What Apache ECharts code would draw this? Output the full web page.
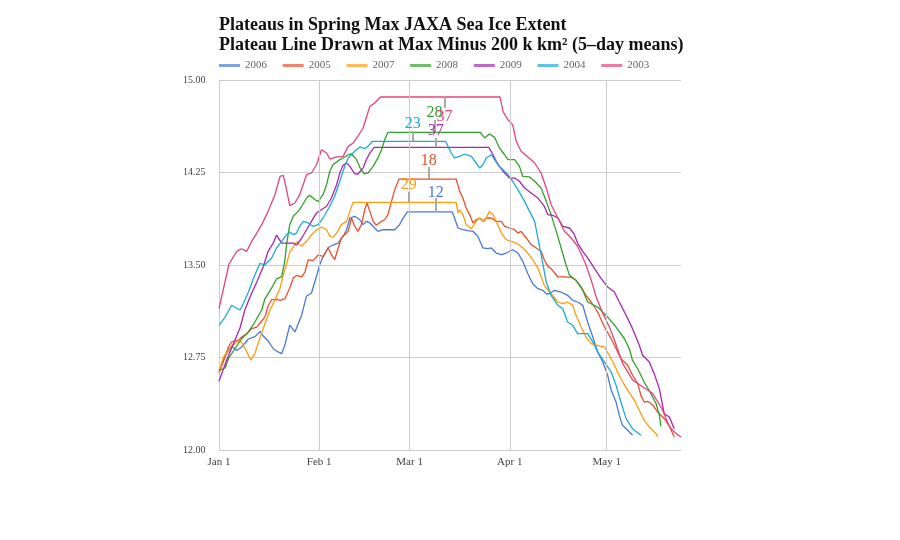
<!DOCTYPE html>
<html><head><meta charset="utf-8">
<script src="https://cdn.jsdelivr.net/npm/echarts@6/dist/echarts.min.js"></script>
<style>html,body{margin:0;padding:0;background:#fff}#c{width:900px;height:540px}</style>
</head><body><div id="c"></div>
<script>
const years = ['2006','2005','2007','2008','2009','2004','2003'];
const colors = ['#4a78d8','#e8502c','#ff9b0e','#33a02c','#a626b0','#1ea9d9','#e2457a'];

const y2006 = [[0,12.641],[1.9,12.762],[3.9,12.843],[5.5,12.807],[7.0,12.835],[9.1,12.900],[11.1,12.919],[12.7,12.961],[13.7,12.924],[15.2,12.884],[16.8,12.821],[18.3,12.795],[19.4,12.782],[20.4,12.851],[21.9,13.012],[23.5,12.957],[24.0,12.957],[25.6,13.095],[27.1,13.249],[28.6,13.271],[30.2,13.411],[31.2,13.504],[32.2,13.565],[33.8,13.642],[35.3,13.662],[36.9,13.678],[38.4,13.733],[39.5,13.786],[40.5,13.881],[42.0,13.895],[43.6,13.867],[44.6,13.827],[45.6,13.854],[46.7,13.841],[48.2,13.800],[49.2,13.773],[50.8,13.786],[52.3,13.786],[54.4,13.786],[55.9,13.827],[57.0,13.881],[58.3,13.930],[72.2,13.930],[72.9,13.881],[74.0,13.800],[75.5,13.786],[77.0,13.778],[78.6,13.773],[80.1,13.733],[81.7,13.638],[83.2,13.632],[84.3,13.638],[85.8,13.597],[87.4,13.584],[88.9,13.597],[90.9,13.624],[92.5,13.597],[94.0,13.532],[95.6,13.429],[97.1,13.348],[98.7,13.308],[100.2,13.295],[101.3,13.267],[102.3,13.267],[103.8,13.295],[105.9,13.281],[107.9,13.254],[109.5,13.214],[111.0,13.200],[112.6,13.173],[114.1,13.038],[115.7,12.916],[117.2,12.795],[118.8,12.714],[120.3,12.606],[121.4,12.484],[122.9,12.389],[123.9,12.281],[124.9,12.200],[126.5,12.160],[128.0,12.119]];

const y2005 = [[0,12.624],[1.3,12.714],[2.9,12.835],[3.9,12.876],[6.0,12.889],[7.0,12.916],[8.6,12.943],[10.1,12.984],[11.7,12.997],[13.2,13.046],[14.2,13.078],[15.2,13.168],[16.3,13.220],[17.8,13.222],[18.9,13.214],[20.4,13.227],[20.9,13.214],[21.9,13.314],[23.0,13.395],[24.0,13.415],[25.6,13.403],[26.6,13.443],[27.6,13.541],[29.1,13.535],[30.7,13.581],[32.2,13.570],[33.8,13.638],[34.8,13.584],[35.8,13.543],[36.9,13.638],[37.9,13.719],[38.9,13.746],[40.0,13.773],[41.0,13.881],[42.0,13.814],[43.0,13.773],[44.1,13.827],[45.1,13.948],[45.8,14.003],[46.7,13.935],[47.7,13.854],[48.7,13.822],[50.3,13.854],[51.3,13.867],[52.3,13.908],[53.4,14.016],[54.4,14.111],[55.7,14.197],[73.4,14.197],[74.5,14.097],[75.5,14.043],[76.5,13.962],[77.6,13.908],[78.6,13.841],[79.6,13.867],[80.7,13.881],[81.7,13.854],[82.7,13.881],[84.3,13.881],[85.8,13.854],[87.4,13.854],[88.4,13.814],[89.9,13.800],[91.5,13.786],[92.5,13.759],[93.5,13.773],[95.1,13.719],[96.6,13.665],[98.2,13.638],[99.7,13.611],[100.7,13.543],[101.8,13.489],[102.8,13.470],[104.9,13.403],[106.9,13.403],[109.0,13.399],[110.5,13.376],[112.1,13.322],[113.6,13.254],[115.2,13.200],[117.2,13.119],[119.3,12.997],[120.8,12.930],[122.4,12.849],[124.4,12.740],[126.5,12.687],[128.0,12.606],[129.6,12.538],[130.6,12.443],[131.6,12.389],[132.7,12.395],[134.2,12.365],[135.8,12.308],[137.8,12.254],[139.4,12.195],[140.9,12.105]];

const y2007 = [[0,12.628],[1.3,12.749],[3.4,12.831],[5.5,12.876],[7.0,12.876],[8.6,12.797],[9.8,12.730],[11.1,12.782],[12.7,12.911],[14.2,13.022],[15.8,13.135],[17.3,13.216],[18.9,13.314],[19.9,13.419],[20.9,13.508],[21.9,13.605],[24.0,13.687],[25.6,13.652],[27.1,13.692],[28.6,13.746],[30.2,13.786],[31.7,13.808],[33.3,13.786],[34.3,13.733],[35.3,13.725],[36.4,13.759],[37.9,13.827],[39.5,13.854],[40.5,13.935],[41.5,14.008],[73.4,14.008],[74.0,13.922],[74.5,13.948],[75.5,13.908],[76.5,13.827],[78.1,13.794],[79.6,13.854],[80.7,13.881],[82.2,13.854],[83.7,13.935],[84.8,13.908],[85.8,13.854],[87.4,13.759],[88.9,13.705],[90.4,13.692],[92.0,13.678],[93.5,13.652],[95.1,13.611],[97.1,13.543],[98.7,13.476],[100.7,13.335],[102.8,13.267],[104.9,13.200],[106.4,13.186],[107.9,13.200],[109.5,13.173],[110.5,13.092],[112.1,12.997],[113.6,12.916],[115.2,12.862],[117.2,12.849],[119.3,12.835],[120.8,12.768],[122.4,12.687],[124.4,12.578],[126.5,12.484],[128.6,12.403],[130.1,12.322],[131.6,12.241],[133.2,12.187],[135.3,12.132],[135.8,12.105]];

const y2008 = [[0,12.646],[1.9,12.665],[2.9,12.740],[4.9,12.821],[7.0,12.902],[9.1,12.957],[11.1,13.038],[13.2,13.135],[14.2,13.224],[16.3,13.314],[17.8,13.387],[19.4,13.405],[20.4,13.541],[20.9,13.665],[21.9,13.827],[23.0,13.895],[24.5,13.935],[25.6,13.976],[27.1,14.043],[28.1,14.065],[29.7,14.029],[30.7,14.016],[32.2,14.070],[33.3,14.151],[34.3,14.260],[35.3,14.313],[36.9,14.346],[38.4,14.368],[40.0,14.394],[41.0,14.400],[42.6,14.354],[43.6,14.292],[44.9,14.238],[46.1,14.246],[47.7,14.300],[49.2,14.368],[50.3,14.435],[51.3,14.516],[52.3,14.576],[80.9,14.576],[82.2,14.530],[83.7,14.562],[85.3,14.535],[86.8,14.449],[88.4,14.394],[89.4,14.354],[91.5,14.354],[93.0,14.300],[94.0,14.219],[96.1,14.214],[97.7,14.179],[99.7,14.124],[101.3,14.016],[102.8,13.908],[104.4,13.773],[105.9,13.638],[107.4,13.502],[108.5,13.416],[110.5,13.376],[112.6,13.295],[114.1,13.200],[117.2,13.159],[120.3,13.078],[122.9,12.997],[125.5,12.902],[127.0,12.821],[128.0,12.727],[129.6,12.659],[131.6,12.551],[133.7,12.457],[135.3,12.375],[136.3,12.281],[136.8,12.192]];

const y2009 = [[0,12.560],[2.4,12.730],[4.3,12.851],[6.5,12.989],[8.0,13.135],[9.6,13.241],[11.7,13.362],[13.7,13.486],[15.2,13.611],[16.8,13.678],[17.8,13.743],[19.4,13.678],[20.9,13.678],[23.0,13.678],[24.0,13.662],[25.6,13.719],[27.1,13.786],[28.6,13.854],[30.2,13.922],[31.7,13.948],[33.3,13.976],[34.8,14.043],[36.4,14.151],[37.4,14.246],[38.4,14.308],[39.5,14.327],[40.5,14.300],[42.0,14.240],[43.0,14.238],[44.6,14.286],[45.6,14.354],[46.7,14.408],[48.0,14.454],[83.5,14.454],[84.8,14.394],[85.8,14.341],[86.8,14.300],[88.4,14.246],[89.9,14.205],[91.5,14.205],[93.0,14.179],[94.6,14.124],[96.6,14.084],[98.7,14.043],[100.7,13.976],[101.8,13.908],[103.3,13.903],[104.9,13.881],[106.4,13.814],[108.5,13.800],[110.0,13.746],[111.0,13.678],[112.6,13.611],[114.1,13.557],[116.2,13.472],[118.3,13.389],[120.3,13.322],[122.4,13.281],[123.9,13.200],[126.0,13.092],[128.0,12.984],[130.1,12.849],[131.1,12.768],[133.2,12.714],[134.7,12.619],[136.3,12.497],[137.3,12.362],[137.8,12.294],[139.4,12.268],[140.9,12.173]];

const y2004 = [[0,13.010],[1.9,13.078],[3.9,13.174],[5.3,13.151],[6.5,13.135],[7.5,13.186],[9.1,13.281],[10.6,13.389],[12.7,13.514],[14.2,13.500],[16.3,13.557],[17.8,13.638],[19.4,13.692],[20.9,13.746],[21.9,13.768],[23.0,13.746],[24.0,13.759],[25.0,13.814],[26.1,13.854],[27.6,13.841],[29.1,13.814],[30.7,13.827],[32.2,13.881],[34.3,13.976],[35.8,14.057],[37.4,14.179],[38.9,14.300],[40.0,14.368],[42.0,14.422],[43.6,14.457],[45.1,14.443],[46.1,14.462],[47.5,14.503],[70.1,14.503],[70.9,14.462],[71.9,14.408],[72.9,14.368],[74.5,14.381],[76.0,14.400],[78.1,14.381],[79.6,14.327],[80.7,14.286],[81.7,14.313],[82.7,14.368],[84.3,14.394],[85.3,14.354],[86.3,14.313],[87.9,14.273],[89.4,14.232],[90.9,14.179],[92.5,14.111],[94.6,14.016],[96.1,13.935],[97.7,13.854],[98.7,13.719],[99.7,13.584],[101.3,13.362],[102.8,13.254],[104.9,13.173],[106.4,13.146],[107.9,13.038],[109.5,13.011],[111.0,12.943],[114.1,12.943],[115.7,12.876],[117.2,12.795],[119.3,12.714],[121.4,12.632],[122.9,12.525],[124.4,12.389],[126.0,12.254],[128.0,12.173],[130.6,12.119]];

const y2003 = [[0,13.146],[3.1,13.508],[5.5,13.611],[7.0,13.632],[8.6,13.611],[10.1,13.692],[11.7,13.759],[13.2,13.827],[15.2,13.935],[17.3,14.070],[18.9,14.219],[19.9,14.227],[20.9,14.111],[21.9,13.981],[23.5,14.003],[25.0,14.070],[27.1,14.232],[28.6,14.246],[30.2,14.313],[31.7,14.435],[33.3,14.408],[34.3,14.359],[36.4,14.376],[38.4,14.381],[40.0,14.462],[41.5,14.489],[43.0,14.544],[44.6,14.611],[46.7,14.787],[48.2,14.814],[50.0,14.862],[87.0,14.862],[87.9,14.746],[89.4,14.678],[90.9,14.638],[92.0,14.503],[93.5,14.422],[95.6,14.376],[97.7,14.327],[99.7,14.246],[101.3,14.124],[102.8,13.989],[104.9,13.881],[106.9,13.773],[109.0,13.719],[111.0,13.652],[113.4,13.514],[115.2,13.378],[116.7,13.243],[118.8,13.108],[120.8,13.000],[122.4,12.892],[124.9,12.703],[128.0,12.568],[131.1,12.513],[134.2,12.460],[137.3,12.324],[139.4,12.189],[141.4,12.135],[143.0,12.106]];

const seriesData = [y2006, y2005, y2007, y2008, y2009, y2004, y2003];

// plateau annotations (same order as years)
const plateauDays  = ['12','18','29','28','37','23','37'];
const plateauMid   = [67.1, 64.9, 58.7, 66.7, 67.1, 60.0, 69.8];
const plateauLevel = [13.930, 14.197, 14.008, 14.576, 14.454, 14.503, 14.862];
const plateauTick  = [14.043, 14.295, 14.092, 14.676, 14.530, 14.586, 14.773];
const plateauLabel = [14.086, 14.346, 14.149, 14.738, 14.589, 14.643, 14.698];

const monthTicks  = [0, 31, 59, 90, 120];
const monthLabels = ['Jan 1', 'Feb 1', 'Mar 1', 'Apr 1', 'May 1'];
const yMin = 12, yMax = 15, yStep = 0.75;
const xMin = 0, xMax = 143;

const serif = '"Liberation Serif", "DejaVu Serif", serif';
const chart = echarts.init(document.getElementById('c'));

const series = [{
  type: 'line', data: [], silent: true, z: 1,
  markLine: {
    silent: true, symbol: ['none', 'none'], label: {show: false},
    lineStyle: {color: '#cccccc', width: 1, type: 'solid'},
    data: monthTicks.slice(1).map(v => ({xAxis: v}))
  }
}];
years.forEach((yr, i) => {
  series.push({
    name: yr, type: 'line', data: seriesData[i], showSymbol: false, symbol: 'none',
    smooth: false, z: 3, color: colors[i],
    lineStyle: {width: 1.3, color: colors[i]},
    markLine: {
      silent: true, symbol: ['none', 'none'], label: {show: false},
      lineStyle: {color: '#aaaaaa', width: 2, type: 'solid'},
      data: [[{coord: [plateauMid[i], plateauLevel[i]]}, {coord: [plateauMid[i], plateauTick[i]]}]]
    },
    markPoint: {
      silent: true, symbol: 'circle', symbolSize: 1,
      itemStyle: {color: 'rgba(0,0,0,0)'},
      label: {show: true, position: 'inside', color: colors[i], fontSize: 16, fontFamily: serif,
        formatter: p => p.name},
      data: [{name: plateauDays[i], coord: [plateauMid[i], plateauLabel[i]]}]
    }
  });
});

chart.setOption({
  animation: false,
  backgroundColor: '#ffffff',
  color: colors,
  title: {
    text: 'Plateaus in Spring Max JAXA Sea Ice Extent\nPlateau Line Drawn at Max Minus 200 k km² (5–day means)',
    left: 214, top: 10,
    textStyle: {fontFamily: serif, fontWeight: 'bold', fontSize: 18, lineHeight: 20, color: '#111'}
  },
  legend: {
    left: 214, top: 55, itemWidth: 21, itemHeight: 3, itemGap: 15.7, icon: 'rect',
    itemStyle: {opacity: 0.7},
    textStyle: {fontFamily: serif, fontSize: 11, color: '#666'},
    data: years
  },
  grid: {left: 219, right: 219, top: 80, bottom: 90, containLabel: false},
  xAxis: {
    type: 'value', min: xMin, max: xMax,
    axisLine: {show: true, lineStyle: {color: '#cccccc'}},
    axisTick: {show: false},
    splitLine: {show: false},
    axisLabel: {
      customValues: monthTicks, margin: 7, fontFamily: serif, fontSize: 11, color: '#444',
      formatter: v => monthLabels[monthTicks.indexOf(v)] || ''
    }
  },
  yAxis: {
    type: 'value', min: yMin, max: yMax, interval: yStep,
    axisLine: {show: true, lineStyle: {color: '#cccccc'}},
    axisTick: {show: false},
    splitLine: {show: true, lineStyle: {color: '#cccccc'}},
    axisLabel: {align: 'left', margin: 36, fontFamily: serif, fontSize: 10, color: '#444',
      formatter: v => v.toFixed(2)}
  },
  series: series
});
</script></body></html>
